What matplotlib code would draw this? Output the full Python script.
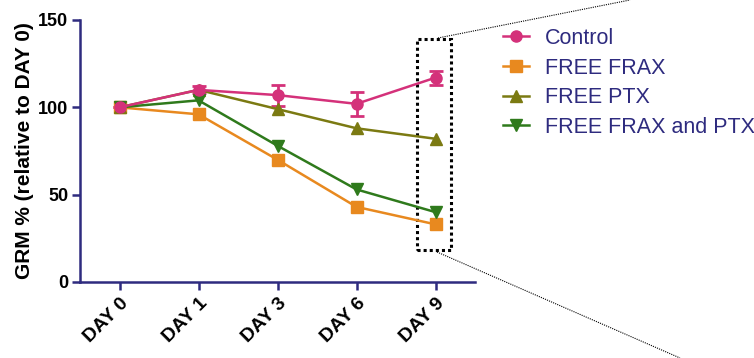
import matplotlib
matplotlib.use("Agg")
import matplotlib.pyplot as plt
from matplotlib.lines import Line2D
from matplotlib.patches import Rectangle

days = ["DAY 0", "DAY 1", "DAY 3", "DAY 6", "DAY 9"]
control = [100, 110, 107, 102, 117]
control_err = [0, 2, 6, 7, 4]
free_frax = [100, 96, 70, 43, 33]
free_ptx = [100, 110, 99, 88, 82]
free_frax_ptx = [100, 104, 78, 53, 40]
labels = ["Control", "FREE FRAX", "FREE PTX", "FREE FRAX and PTX"]

plt.rcParams['font.family'] = ['Liberation Sans', 'DejaVu Sans']
navy = "#2e2b7f"

fig = plt.figure(figsize=(7.54, 3.58), dpi=100)
ax = fig.add_axes([80/754, (358-282)/358, (475-80)/754, (282-20)/358])

x = list(range(len(days)))
c_ctrl, c_frax, c_ptx, c_both = "#d4317a", "#e8891f", "#7b7a12", "#2f7a1c"
ms = 8
ax.errorbar(x, control, yerr=control_err, color=c_ctrl, marker="o", ms=ms,
            lw=1.8, capsize=5, capthick=2, elinewidth=2)
ax.plot(x, free_frax, color=c_frax, marker="s", ms=ms, lw=1.8)
ax.plot(x, free_ptx, color=c_ptx, marker="^", ms=ms + 1, lw=1.8)
ax.plot(x, free_frax_ptx, color=c_both, marker="v", ms=ms + 1, lw=1.8)

ax.set_xlim(-0.5, 4.5)
ax.set_ylim(0, 150)
ax.set_yticks([0, 50, 100, 150])
ax.set_xticks(x)
ax.set_xticklabels(days, rotation=45, ha="right", rotation_mode="anchor",
                   fontsize=14, fontweight="bold")
for t in ax.get_yticklabels():
    t.set_fontsize(13)
    t.set_fontweight("bold")
ax.set_ylabel("GRM % (relative to DAY 0)", fontsize=15, fontweight="bold", labelpad=3)
for s in ["top", "right"]:
    ax.spines[s].set_visible(False)
for s in ["left", "bottom"]:
    ax.spines[s].set_color(navy)
    ax.spines[s].set_linewidth(1.8)
ax.tick_params(axis="both", direction="out", length=5.5, width=1.8, color=navy, pad=3)
ax.tick_params(axis="x", pad=4)
ax.patch.set_alpha(0)

# dotted highlight box around DAY 9
rect = Rectangle((4 - 0.24, 18.5), 0.43, 120.5, fill=False, ls=(0, (1, 1)),
                 lw=2.2, edgecolor="black", clip_on=False)
ax.add_patch(rect)

# zoom guide lines (figure coords)
fig.add_artist(Line2D([438/754, 630/754], [1 - 38/358, 1.0], transform=fig.transFigure,
                      color="black", lw=0.8, ls=(0, (1, 1))))
fig.add_artist(Line2D([437/754, 680/754], [1 - 252/358, 0.0], transform=fig.transFigure,
                      color="black", lw=0.8, ls=(0, (1, 1))))

handles = [
    Line2D([], [], color=c_ctrl, marker="o", ms=ms, lw=1.8),
    Line2D([], [], color=c_frax, marker="s", ms=ms, lw=1.8),
    Line2D([], [], color=c_ptx, marker="^", ms=ms + 1, lw=1.8),
    Line2D([], [], color=c_both, marker="v", ms=ms + 1, lw=1.8),
]
leg = fig.legend(handles, labels, loc="upper left", bbox_to_anchor=(503/754, 1 - 28/358),
                 frameon=False, fontsize=15.5, handlelength=1.2, handletextpad=0.75,
                 labelspacing=0.4, borderaxespad=0, borderpad=0)
for t in leg.get_texts():
    t.set_color(navy)

fig.savefig("out.png", dpi=100)
